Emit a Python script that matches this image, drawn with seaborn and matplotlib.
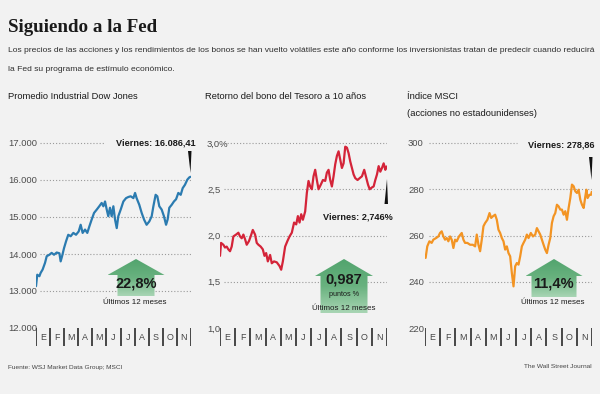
import numpy as np
import pandas as pd
import matplotlib
matplotlib.use('Agg')
import matplotlib.pyplot as plt
from matplotlib.patches import Polygon
from matplotlib.colors import LinearSegmentedColormap
import seaborn as sns

# datos (x = meses transcurridos desde el 1 de enero)
meses = ['E', 'F', 'M', 'A', 'M', 'J', 'J', 'A', 'S', 'O', 'N']

dow_x = [0, 0.09, 0.24, 0.33, 0.47, 0.64, 0.76, 0.95, 1.11, 1.28, 1.47, 1.66, 1.75, 1.85, 1.99, 2.13, 2.29, 2.46,
         2.65, 2.84, 3.03, 3.17, 3.31, 3.48, 3.64, 3.79, 3.95, 4.12, 4.31, 4.49, 4.66, 4.78, 4.90, 5.02, 5.13, 5.25,
         5.37, 5.49, 5.61, 5.73, 5.84, 6.01, 6.20, 6.39, 6.55, 6.72, 6.91, 7.03, 7.14, 7.33, 7.50, 7.67, 7.85, 8.04,
         8.21, 8.33, 8.49, 8.61, 8.75, 8.92, 9.08, 9.23, 9.34, 9.46, 9.63, 9.79, 9.94, 10.10, 10.27, 10.41, 10.57,
         10.74, 10.88, 10.96]
dow_y = [13130, 13440, 13400, 13490, 13580, 13760, 13940, 13980, 14030, 13980, 14040, 14020, 13800, 13940, 14160,
         14340, 14520, 14480, 14570, 14520, 14610, 14790, 14570, 14660, 14570, 14750, 14930, 15110, 15200, 15290,
         15380, 15290, 15420, 15200, 15020, 15250, 15020, 15290, 14930, 14700, 15020, 15200, 15420, 15510, 15540,
         15560, 15510, 15650, 15510, 15330, 15110, 14930, 14790, 14880, 15020, 15290, 15600, 15560, 15290, 15200,
         15020, 14790, 14930, 15250, 15330, 15420, 15480, 15650, 15600, 15780, 15870, 16010, 16070, 16086]

bono_x = [0, 0.07, 0.22, 0.33, 0.44, 0.55, 0.66, 0.77, 0.88, 1.06, 1.21, 1.32, 1.43, 1.54, 1.65, 1.76, 1.91, 2.02,
          2.16, 2.31, 2.42, 2.53, 2.68, 2.82, 2.93, 3.04, 3.15, 3.30, 3.41, 3.56, 3.74, 3.92, 4.03, 4.14, 4.29, 4.44,
          4.58, 4.73, 4.88, 5.02, 5.13, 5.24, 5.35, 5.46, 5.61, 5.72, 5.83, 5.94, 6.05, 6.16, 6.27, 6.38, 6.49, 6.64,
          6.78, 6.93, 7.04, 7.15, 7.26, 7.37, 7.48, 7.59, 7.70, 7.81, 7.92, 8.03, 8.14, 8.25, 8.36, 8.47, 8.58, 8.69,
          8.80, 8.91, 9.06, 9.20, 9.35, 9.50, 9.64, 9.75, 9.86, 10.01, 10.12, 10.23, 10.34, 10.45, 10.56, 10.67,
          10.78, 10.89, 10.96]
bono_y = [1.78, 1.92, 1.90, 1.87, 1.88, 1.85, 1.83, 1.88, 1.99, 2.01, 2.03, 1.99, 1.97, 2.01, 1.96, 1.90, 1.94,
          1.99, 2.06, 2.01, 1.92, 1.90, 1.88, 1.85, 1.78, 1.81, 1.72, 1.79, 1.70, 1.72, 1.71, 1.67, 1.63, 1.72, 1.88,
          1.94, 1.99, 2.03, 2.14, 2.12, 2.21, 2.14, 2.23, 2.17, 2.26, 2.46, 2.59, 2.53, 2.50, 2.64, 2.71, 2.60, 2.50,
          2.55, 2.60, 2.59, 2.68, 2.71, 2.60, 2.53, 2.64, 2.77, 2.86, 2.91, 2.82, 2.73, 2.78, 2.96, 2.95, 2.89, 2.80,
          2.73, 2.66, 2.62, 2.60, 2.62, 2.64, 2.71, 2.62, 2.55, 2.50, 2.52, 2.53, 2.60, 2.66, 2.75, 2.69, 2.73, 2.78,
          2.71, 2.746]

msci_x = [0.04, 0.15, 0.29, 0.44, 0.55, 0.73, 0.88, 0.99, 1.10, 1.21, 1.32, 1.43, 1.54, 1.65, 1.76, 1.87, 1.98,
          2.09, 2.24, 2.42, 2.53, 2.64, 2.79, 2.97, 3.15, 3.30, 3.41, 3.52, 3.63, 3.74, 3.85, 3.96, 4.11, 4.25, 4.36,
          4.47, 4.62, 4.73, 4.84, 4.95, 5.06, 5.17, 5.28, 5.39, 5.50, 5.61, 5.72, 5.83, 5.94, 6.05, 6.16, 6.27, 6.38,
          6.49, 6.60, 6.71, 6.82, 6.97, 7.11, 7.26, 7.37, 7.48, 7.59, 7.70, 7.81, 7.92, 8.03, 8.14, 8.25, 8.36, 8.47,
          8.58, 8.69, 8.80, 8.91, 9.02, 9.13, 9.24, 9.35, 9.46, 9.57, 9.68, 9.79, 9.90, 10.01, 10.12, 10.23, 10.34,
          10.45, 10.56, 10.63, 10.71, 10.83, 10.94, 10.98]
msci_y = [250.3, 255.3, 257.5, 256.8, 258.2, 258.9, 259.6, 261.1, 261.8, 259.6, 258.2, 258.9, 257.5, 259.6, 258.2,
          254.6, 258.2, 257.5, 259.6, 261.1, 258.2, 256.8, 256.8, 256.0, 256.0, 255.3, 260.4, 256.0, 253.2, 258.2,
          264.0, 265.4, 266.8, 269.7, 267.6, 268.3, 269.0, 266.8, 262.5, 261.1, 258.9, 257.5, 253.9, 255.3, 252.4,
          251.0, 243.8, 238.0, 246.7, 248.1, 247.4, 251.0, 255.3, 256.8, 258.2, 260.4, 258.9, 261.1, 259.6, 260.4,
          263.2, 261.8, 260.4, 258.2, 256.0, 253.9, 252.4, 256.0, 258.9, 265.4, 268.3, 269.7, 273.3, 272.6, 271.2,
          271.2, 269.0, 270.5, 266.8, 271.9, 276.2, 282.0, 281.3, 279.1, 278.4, 279.8, 275.5, 273.3, 271.9, 276.9,
          279.8, 276.2, 277.6, 277.6, 278.86]

dow_ticks = [12000, 13000, 14000, 15000, 16000, 17000]
dow_labels = ['12.000', '13.000', '14.000', '15.000', '16.000', '17.000']
bono_ticks = [1.0, 1.5, 2.0, 2.5, 3.0]
bono_labels = ['1,0', '1,5', '2,0', '2,5', '3,0%']
msci_ticks = [220, 240, 260, 280, 300]
msci_labels = ['220', '240', '260', '280', '300']

fondo = '#f2f2f2'
sns.set_theme(style='white')
plt.rcParams['font.family'] = ['Liberation Sans', 'DejaVu Sans']

fig = plt.figure(figsize=(6, 3.94), dpi=100, facecolor=fondo)
W, H = 600, 394
rend = fig.canvas.get_renderer()


def fit(t, width_px):
    # ajusta el tamaño de letra para que el texto ocupe el ancho indicado
    w = t.get_window_extent(rend).width
    t.set_fontsize(t.get_fontsize() * width_px / w)
    return t.get_fontsize()


def panel(xs, ys, ticks, labels, color, x0, x1, label_x):
    # eje en pixeles: valor alto en y=143, valor bajo en y=328
    y_top, y_bot = 130, 346
    lo, hi = ticks[0], ticks[-1]
    k = (hi - lo) / (328 - 143)
    ax = fig.add_axes([x0 / W, 1 - y_bot / H, (x1 - x0) / W, (y_bot - y_top) / H])
    ax.set_facecolor('none')
    df = pd.DataFrame({'mes': xs, 'valor': ys})
    sns.lineplot(data=df, x='mes', y='valor', ax=ax, color=color, linewidth=1.6)
    ax.set_xlim(0, 11)
    ax.set_ylim(lo - (y_bot - 328) * k, hi + (143 - y_top) * k)
    # separadores de meses
    ax.vlines(range(12), lo - 18 * k, lo, color='#2a2a2a', lw=1.2)
    for i, m in enumerate(meses):
        ax.text(i + 0.5, lo - 9 * k, m, ha='center', va='center', fontsize=6.4, color='#444444')
    ax.set_yticks(ticks)
    ax.set_yticklabels(labels)
    ax.set_xticks([])
    ax.set_xlabel('')
    ax.set_ylabel('')
    ax.tick_params(axis='y', length=0, pad=(x0 - label_x) * 0.72, labelsize=6.8, labelcolor='#4d4d4d')
    for lab in ax.get_yticklabels():
        lab.set_ha('left')
    for s in ax.spines.values():
        s.set_visible(False)
    return ax


def rejilla(ax, ticks, fin_sup):
    # lineas de referencia punteadas (la superior puede acortarse)
    for t in ticks[1:]:
        fin = fin_sup if t == ticks[-1] else 11
        ax.plot([0.25, fin], [t, t], color='#9a9a9a', lw=0.8, ls=(0, (1, 1.8)), zorder=0)


ax1 = panel(dow_x, dow_y, dow_ticks, dow_labels, '#2b7bb0', 36, 191, 8)
ax2 = panel(bono_x, bono_y, bono_ticks, bono_labels, '#d42439', 220, 387, 207)
ax3 = panel(msci_x, msci_y, msci_ticks, msci_labels, '#f39423', 425, 592, 408)

# capa de textos y flechas en pixeles
ov = fig.add_axes([0, 0, 1, 1], zorder=5)
ov.axis('off')
ov.set_xlim(0, W)
ov.set_ylim(H, 0)

verde = LinearSegmentedColormap.from_list('verde', ['#52a46e', '#69b27f', '#a8d5b4'])


def flecha(cx, top, base, hw, bw, bottom):
    pts = [(cx, top), (cx + hw, base), (cx + bw, base), (cx + bw, bottom),
           (cx - bw, bottom), (cx - bw, base), (cx - hw, base)]
    poly = Polygon(pts, closed=True, facecolor='none', edgecolor='none')
    ov.add_patch(poly)
    grad = np.linspace(0, 1, 100).reshape(-1, 1)
    im = ov.imshow(grad, cmap=verde, extent=(cx - hw, cx + hw, bottom, top), aspect='auto', origin='upper')
    im.set_clip_path(poly)


flecha(136, 259, 275, 28.5, 18.5, 296)
flecha(344, 259, 276, 29, 23.5, 313)
flecha(554, 259, 276, 28.5, 22.5, 297)

# punteros negros
for pts in [[(188, 151), (191.5, 151), (190.5, 173)],
            [(384.5, 204), (388, 204), (387, 179)],
            [(589, 157), (592.5, 157), (591.5, 180)]]:
    ov.add_patch(Polygon(pts, closed=True, facecolor='#111111', edgecolor='none'))

titulo = ov.text(8, 32, 'Siguiendo a la Fed', fontsize=14, fontweight='bold', family=['Liberation Serif'],
                 color='#1a1a1a', va='baseline')
fit(titulo, 150)
sub1 = ov.text(8, 50, 'Los precios de las acciones y los rendimientos de los bonos se han vuelto volátiles este año '
                      'conforme los inversionistas tratan de predecir cuando reducirá', fontsize=6.5, color='#2e2e2e',
               va='center')
fs = fit(sub1, 584)
ov.text(8, 69, 'la Fed su programa de estímulo económico.', fontsize=fs, color='#2e2e2e', va='center')

t1 = ov.text(8, 96, 'Promedio Industrial Dow Jones', fontsize=7, color='#1a1a1a', va='center')
fs = fit(t1, 130)
ov.text(205, 96, 'Retorno del bono del Tesoro a 10 años', fontsize=fs, color='#1a1a1a', va='center')
ov.text(407, 96, 'Índice MSCI', fontsize=fs, color='#1a1a1a', va='center')
ov.text(407, 113, '(acciones no estadounidenses)', fontsize=fs, color='#1a1a1a', va='center')

v1 = ov.text(196, 143, 'Viernes: 16.086,41', ha='right', va='center', fontsize=6.6, fontweight='bold',
             color='#1a1a1a')
ov.text(393, 217, 'Viernes: 2,746%', ha='right', va='center', fontsize=6.6, fontweight='bold', color='#1a1a1a')
v3 = ov.text(595, 145, 'Viernes: 278,86', ha='right', va='center', fontsize=6.6, fontweight='bold',
             color='#1a1a1a')


def fin_antes(ax, txt):
    # la linea superior termina antes del texto "Viernes"
    x0 = txt.get_window_extent(rend).x0 - 12
    return ax.transData.inverted().transform((x0, 0))[0]


rejilla(ax1, dow_ticks, fin_antes(ax1, v1))
rejilla(ax2, bono_ticks, 11)
rejilla(ax3, msci_ticks, fin_antes(ax3, v3))

ov.text(136, 283, '22,8%', ha='center', va='center', fontsize=10.5, fontweight='bold', color='#1a1a1a')
ov.text(344, 279, '0,987', ha='center', va='center', fontsize=10.5, fontweight='bold', color='#1a1a1a')
ov.text(344, 294, 'puntos %', ha='center', va='center', fontsize=5.2, color='#1a1a1a')
ov.text(553, 283, '11,4%', ha='center', va='center', fontsize=10.5, fontweight='bold', color='#1a1a1a')
ov.text(135, 302, 'Últimos 12 meses', ha='center', va='center', fontsize=5.8, color='#1a1a1a')
ov.text(344, 309, 'Últimos 12 meses', ha='center', va='center', fontsize=5.8, color='#1a1a1a')
ov.text(553, 302, 'Últimos 12 meses', ha='center', va='center', fontsize=5.8, color='#1a1a1a')

pie = ov.text(8, 367, 'Fuente: WSJ Market Data Group; MSCI', fontsize=5.5, color='#444444', va='center')
fs = fit(pie, 114)
ov.text(592, 367, 'The Wall Street Journal', fontsize=fs, color='#444444', va='center', ha='right')

ov.set_xlim(0, W)
ov.set_ylim(H, 0)

plt.savefig('out.png', dpi=100, facecolor=fondo)
